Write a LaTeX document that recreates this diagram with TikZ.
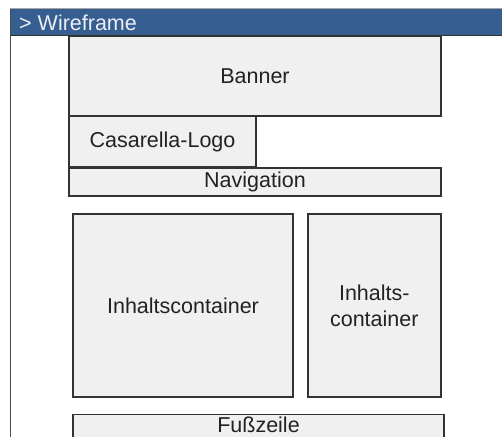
\documentclass[tikz,border=0pt]{standalone}
\usepackage{fontspec}
\setmainfont{Liberation Sans}
\definecolor{hdrblue}{HTML}{375E91}
\definecolor{boxfill}{HTML}{F0F0F0}
\definecolor{boxline}{HTML}{333333}
\definecolor{txt}{HTML}{222222}
\begin{document}
\begin{tikzpicture}[x=1pt,y=-1pt,
  wbox/.style={draw=boxline, fill=boxfill, line width=1.6pt, rectangle,
    inner sep=0pt, outer sep=0pt, text=txt, align=center,
    font=\fontsize{21.5}{26}\selectfont},
  hdrtext/.style={text=white!90!hdrblue, inner sep=0pt, anchor=west,
    font=\fontsize{21.5}{26}\selectfont}]
\useasboundingbox (0,0) rectangle (502,436);
\clip (0,0) rectangle (502,436);
\fill[white] (0,0) rectangle (502,436);
% outer frame
\fill[hdrblue] (10,9.5) rectangle (510,35.5);
\draw[line width=1pt, black!35] (10,9) -- (510,9);
\draw[line width=1.2pt, black!80] (10,35.5) -- (510,35.5);
\draw[line width=1.5pt, black!70] (10.7,9) -- (10.7,440);
\node[hdrtext] (hdr) at (19,22.5) {> Wireframe};
% boxes
\node[wbox, minimum width=372pt, minimum height=80pt] (banner) at (255,76) {Banner};
\node[wbox, minimum width=187pt, minimum height=51pt] (logo) at (162.5,141.5) {Casarella-Logo};
\node[wbox, minimum width=372pt, minimum height=28pt] (nav) at (255,182) {Navigation};
\node[wbox, minimum width=220pt, minimum height=183pt] (main) at (183,305.5) {Inhaltscontainer};
\node[wbox, minimum width=133pt, minimum height=183pt] (side) at (374.3,305.5) {Inhalts-\\container};
\node[wbox, minimum width=371.5pt, minimum height=30pt, text height=15.5pt, text depth=9pt,
  anchor=north] (foot) at (258.5,414.3) {Fußzeile};
\end{tikzpicture}
\end{document}
